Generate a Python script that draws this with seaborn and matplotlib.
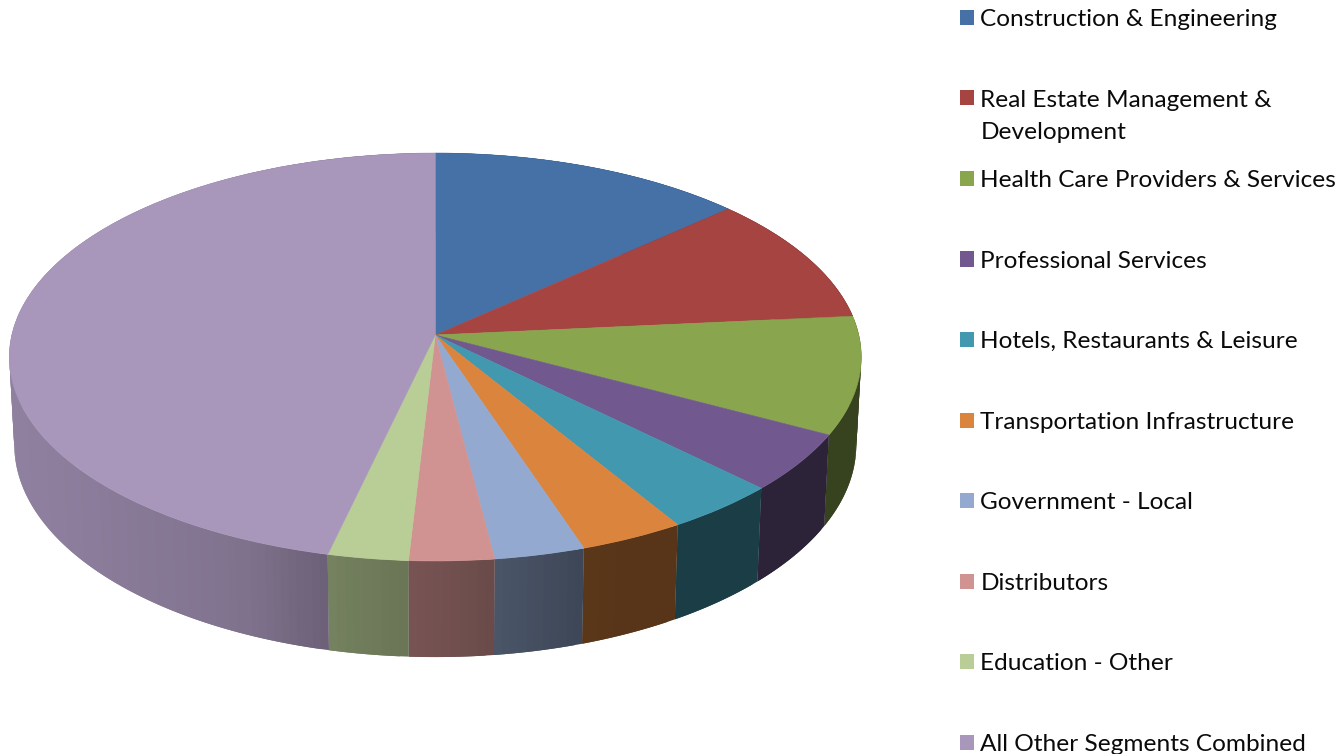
import numpy as np
import matplotlib
matplotlib.use("Agg")
import matplotlib.pyplot as plt
from matplotlib.collections import PolyCollection
from matplotlib.colors import to_rgb
from matplotlib.patches import Patch
from matplotlib.transforms import Transform
import seaborn as sns

segments = ["Construction & Engineering", "Real Estate Management &", "Health Care Providers & Services",
            "Professional Services", "Hotels, Restaurants & Leisure", "Transportation Infrastructure",
            "Government - Local", "Distributors", "Education - Other", "All Other Segments Combined"]
wrapped_line = "Development"
shares = [13.3, 10.2, 9.3, 4.6, 3.9, 3.6, 3.1, 2.9, 2.75, 46.35]
colors = ["#4571A6", "#A64442", "#89A54E", "#71588F", "#4198AF", "#DB843D",
          "#93A9CF", "#D19392", "#B9CD96", "#A897BB"]

sns.set_theme(style="white")
plt.rcParams["font.family"] = ["Lato", "DejaVu Sans"]
W, H = 1340, 754


class Perspective(Transform):
    """Tilts the flat unit pie into picture pixels."""
    input_dims = 2
    output_dims = 2

    def __init__(self, cx, cy, rx, ry, k=0.1079):
        super().__init__()
        self.p = (cx, cy, rx, ry, k)

    def transform_non_affine(self, values):
        cx, cy, rx, ry, k = self.p
        values = np.asarray(values, dtype=float)
        u, v = values[:, 0], values[:, 1]
        w = 1 + k * v
        return np.column_stack([cx + rx * u / w, cy - ry * v / w])


top = Perspective(435.3, 335, 423.5, 201.6)
rim = Perspective(435.3, 422, 418.5, 209.7)

fig = plt.figure(figsize=(W / 100, H / 100), dpi=100)
ax = fig.add_axes([0, 0, 1, 1])

wedges, _ = ax.pie(shares, colors=colors, startangle=90, counterclock=False, radius=1,
                   wedgeprops=dict(linewidth=0.4))
for wedge in wedges:
    wedge.set_edgecolor(wedge.get_facecolor())
    wedge.set_transform(top + ax.transData)
    wedge.set_zorder(3)

# side wall: each slice in overlapping strips, shaded left to right
shade_x = [10, 100, 200, 250, 320, 340, 410, 450, 500, 580, 630, 860]
shade_f = [0.85, 0.82, 0.78, 0.75, 0.65, 0.62, 0.57, 0.545, 0.50, 0.42, 0.40, 0.40]
edges = np.concatenate([[0], np.cumsum(shares)]) / np.sum(shares) * 2 * np.pi
for a0, a1, col in zip(edges[:-1], edges[1:], colors):
    n = max(int(np.degrees(a1 - a0)), 2)
    th = np.linspace(a0, a1, n + 1)
    unit = np.column_stack([np.sin(th), np.cos(th)])
    t, b = top.transform_non_affine(unit), rim.transform_non_affine(unit)
    polys = []
    for i in range(n):
        j = min(i + 2, n)
        polys.append(np.vstack([t[i:j + 1], b[i:j + 1][::-1]]))
    base = np.array(to_rgb(col))
    mid = (t[:-1, 0] + t[1:, 0]) / 2
    face = [tuple(base * np.interp(x, shade_x, shade_f)) for x in mid]
    ax.add_collection(PolyCollection(polys, facecolors=face, edgecolors="none",
                                     linewidths=0, zorder=1))

ax.set_aspect("auto")
ax.set_xlim(0, W)
ax.set_ylim(H, 0)
ax.axis("off")

fs_pt = 17.55
fs_px = fs_pt * 100 / 72
handles = [Patch(facecolor=c, edgecolor="none") for c in colors]
leg = ax.legend(handles, segments, loc="upper left", frameon=False, fontsize=fs_pt,
                bbox_to_anchor=(959.5 / W, 1 - 9 / H), bbox_transform=fig.transFigure,
                borderpad=0, borderaxespad=0, labelspacing=(80.8 - fs_px * 0.872) / fs_px,
                handlelength=14 / fs_px, handleheight=14 / fs_px, handletextpad=7 / fs_px)
for text in leg.get_texts():
    text.set_color("#0a0a0a")
ax.annotate(wrapped_line, xy=(0, 0), xycoords=leg.get_texts()[1], xytext=(0, -32),
            textcoords="offset pixels", fontsize=fs_pt, color="#0a0a0a", va="bottom", ha="left",
            zorder=6)

fig.savefig("out.png", dpi=100)
